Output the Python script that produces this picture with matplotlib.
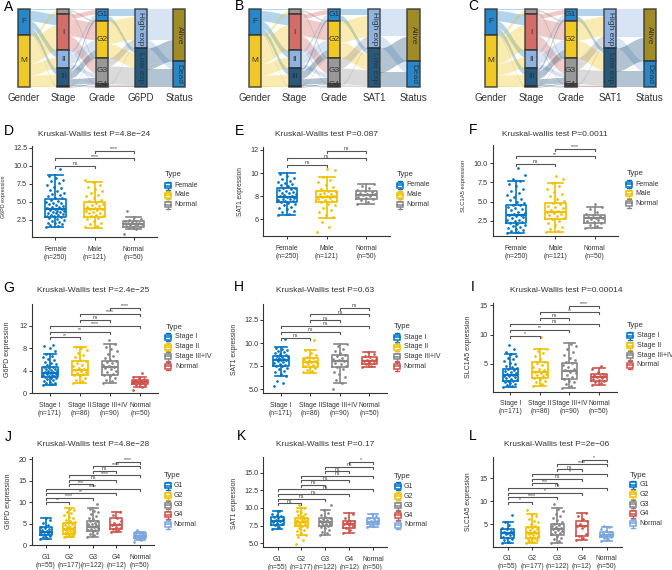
#! /usr/bin/env python3
import numpy as np
import matplotlib
matplotlib.use('Agg')
import matplotlib.pyplot as plt
from matplotlib.patches import Rectangle

plt.rcParams['font.family'] = ['Liberation Sans', 'DejaVu Sans']

BLUE, YEL, GRAY, RED, LBLUE, NAVY, OLIVE = '#0073C2', '#EFC000', '#868686', '#CD534C', '#7AA6DC', '#003C67', '#8F7700'
INK = '#333333'

# sample counts for the alluvial panels (rows = left column, cols = right column)
gender_stage = [[7, 50, 32, 28, 4], [17, 121, 54, 54, 4]]
stage_grade = [[3, 9, 10, 2, 0], [21, 82, 62, 5, 1], [18, 46, 20, 1, 1], [11, 38, 27, 4, 2], [2, 2, 3, 0, 1]]
grade_g6pd = [[35, 20], [108, 69], [38, 84], [3, 9], [1, 4]]
grade_sat1 = [[30, 25], [100, 77], [48, 74], [5, 7], [2, 3]]
grade_slc = [[34, 21], [92, 85], [52, 70], [6, 6], [1, 4]]
g6pd_status = [[145, 40], [100, 86]]
sat1_status = [[130, 55], [115, 71]]
slc_status = [[135, 50], [110, 76]]

# five number summaries: low whisker, q1, median, q3, high whisker
D_stats = [[1.57, 2.96, 3.98, 5.36, 8.7], [1.45, 2.96, 4.0, 4.95, 7.7], [1.2, 1.57, 1.95, 2.36, 2.96]]
E_stats = [[6.37, 7.53, 7.96, 8.68, 9.98], [6.11, 7.47, 7.96, 8.45, 9.69], [7.32, 7.76, 8.1, 8.45, 9.06]]
F_stats = [[0.93, 2.24, 3.25, 4.55, 7.73], [1.06, 2.68, 3.68, 4.77, 7.47], [1.5, 2.24, 2.81, 3.25, 4.33]]
G_stats = [[1.47, 2.84, 3.66, 4.73, 6.92], [1.78, 3.25, 4.14, 5.79, 8.28], [1.78, 3.25, 4.62, 5.68, 8.76], [1.17, 1.6, 1.95, 2.36, 2.95]]
H_stats = [[6.41, 7.53, 8.15, 8.59, 9.53], [6.77, 7.42, 7.9, 8.33, 9.24], [5.68, 7.42, 8.08, 8.66, 9.89], [7.36, 7.72, 8.08, 8.44, 9.05]]
I_stats = [[1.15, 2.17, 3.14, 4.15, 6.69], [1.32, 2.58, 3.59, 5.29, 7.6], [0.98, 2.46, 3.86, 5.12, 8.5], [1.44, 2.17, 2.74, 3.3, 4.27]]
J_stats = [[1.33, 2.33, 3.1, 4.12, 6.37], [1.8, 2.5, 3.66, 5.06, 8.56], [1.94, 3.34, 4.27, 5.67, 8.56], [2.96, 3.66, 4.67, 6.23, 7.63], [1.17, 1.7, 2.1, 2.72, 3.1]]
K_stats = [[7.03, 7.59, 8.16, 8.77, 9.57], [6.18, 7.45, 8.06, 8.63, 9.96], [6.18, 7.45, 8.06, 8.54, 9.72], [6.42, 7.21, 7.73, 8.16, 9.25], [7.27, 7.69, 8.06, 8.54, 9.15]]
L_stats = [[0.87, 1.96, 3.04, 3.91, 5.57], [0.87, 1.96, 3.04, 4.35, 7.24], [0.87, 2.67, 3.91, 5.07, 8.48], [1.59, 2.52, 4.63, 5.78, 7.52], [1.43, 2.17, 2.67, 3.26, 4.35]]

D_pts = [
    [1.6, 1.65, 1.8, 1.9, 2.05, 2.1, 2.25, 2.4, 2.5, 2.6, 2.75, 2.85, 3.0, 3.1, 3.15, 3.25, 3.3, 3.4, 3.5, 3.55, 3.65, 3.7, 3.8, 3.9, 4.0, 4.05, 4.15, 4.25, 4.3, 4.45, 4.6, 4.7, 4.8, 4.9, 5.05, 5.15, 5.3, 5.5, 5.6, 5.8, 6.0, 6.1, 6.3, 6.5, 6.7, 6.9, 7.1, 7.4, 7.6, 7.9, 8.1, 8.3, 8.6, 9.5],
    [1.5, 1.7, 1.9, 2.1, 2.4, 2.6, 2.8, 3.0, 3.1, 3.2, 3.4, 3.5, 3.6, 3.7, 3.85, 4.0, 4.05, 4.2, 4.3, 4.45, 4.6, 4.75, 4.9, 5.1, 5.3, 5.5, 5.8, 6.0, 6.2, 6.5, 6.8, 7.1, 7.4, 7.7, 8.0],
    [0.6, 1.2, 1.35, 1.5, 1.6, 1.7, 1.8, 1.85, 1.9, 2.0, 2.05, 2.1, 2.2, 2.3, 2.4, 2.5, 2.7, 2.95, 3.7],
]
E_pts = [
    [6.4, 6.5, 6.6, 6.7, 6.85, 6.95, 7.05, 7.2, 7.3, 7.4, 7.5, 7.55, 7.6, 7.7, 7.75, 7.8, 7.85, 7.9, 8.0, 8.05, 8.1, 8.15, 8.25, 8.3, 8.4, 8.45, 8.5, 8.6, 8.7, 8.75, 8.85, 8.95, 9.05, 9.15, 9.25, 9.35, 9.5, 9.6, 9.75, 9.95],
    [4.9, 5.3, 5.8, 6.2, 6.4, 6.6, 6.8, 7.0, 7.2, 7.35, 7.5, 7.6, 7.7, 7.8, 7.85, 7.95, 8.0, 8.05, 8.15, 8.2, 8.3, 8.4, 8.45, 8.6, 8.8, 9.0, 9.2, 9.4, 9.65, 10.3, 10.35],
    [7.35, 7.5, 7.65, 7.75, 7.85, 7.95, 8.0, 8.1, 8.15, 8.2, 8.3, 8.4, 8.45, 8.55, 8.7, 8.85, 9.05],
]
F_pts = [
    [0.95, 1.05, 1.15, 1.3, 1.4, 1.5, 1.65, 1.8, 1.9, 2.05, 2.2, 2.3, 2.4, 2.55, 2.65, 2.8, 2.95, 3.05, 3.2, 3.3, 3.4, 3.55, 3.7, 3.85, 4.0, 4.2, 4.35, 4.5, 4.6, 4.75, 4.95, 5.15, 5.4, 5.6, 5.85, 6.1, 6.4, 6.7, 7.0, 7.3, 7.7, 8.0, 8.5, 9.4],
    [1.05, 1.2, 1.45, 1.7, 1.95, 2.2, 2.5, 2.7, 2.9, 3.05, 3.2, 3.35, 3.5, 3.65, 3.8, 3.95, 4.1, 4.25, 4.45, 4.65, 4.8, 5.1, 5.4, 5.7, 6.0, 6.3, 6.7, 7.0, 7.4, 8.0, 8.4],
    [1.5, 1.8, 2.0, 2.2, 2.35, 2.5, 2.6, 2.7, 2.8, 2.9, 3.0, 3.1, 3.2, 3.35, 3.6, 4.0, 4.3, 4.7],
]
G_pts = [
    [1.5, 1.6, 1.75, 1.9, 2.05, 2.2, 2.35, 2.5, 2.65, 2.8, 2.9, 3.0, 3.1, 3.2, 3.3, 3.4, 3.5, 3.6, 3.7, 3.8, 3.9, 4.0, 4.1, 4.25, 4.35, 4.5, 4.65, 4.75, 4.95, 5.15, 5.35, 5.6, 5.85, 6.1, 6.4, 6.7, 6.9, 7.5, 8.0, 8.4, 8.5],
    [1.8, 2.1, 2.4, 2.7, 3.0, 3.2, 3.4, 3.6, 3.8, 4.0, 4.1, 4.3, 4.5, 4.8, 5.1, 5.4, 5.7, 6.0, 6.4, 6.8, 7.2, 7.6, 8.0, 8.3],
    [1.8, 2.1, 2.4, 2.7, 3.0, 3.2, 3.4, 3.7, 4.0, 4.3, 4.5, 4.7, 4.9, 5.1, 5.3, 5.5, 5.7, 5.9, 6.2, 6.6, 7.0, 7.5, 7.9, 8.3, 8.7, 9.5],
    [0.6, 1.2, 1.4, 1.55, 1.7, 1.8, 1.9, 2.0, 2.1, 2.2, 2.3, 2.45, 2.7, 2.95, 3.6],
]
H_pts = [
    [5.3, 5.6, 5.9, 6.4, 6.6, 6.8, 7.0, 7.15, 7.3, 7.45, 7.55, 7.65, 7.75, 7.85, 7.95, 8.05, 8.1, 8.2, 8.25, 8.3, 8.4, 8.45, 8.5, 8.6, 8.7, 8.8, 8.9, 9.0, 9.1, 9.25, 9.4, 9.5, 10.4],
    [6.8, 6.95, 7.1, 7.25, 7.4, 7.5, 7.6, 7.7, 7.8, 7.9, 7.95, 8.05, 8.15, 8.25, 8.35, 8.5, 8.7, 8.9, 9.2, 10.3],
    [5.0, 5.7, 6.0, 6.3, 6.6, 6.9, 7.2, 7.4, 7.55, 7.7, 7.85, 8.0, 8.1, 8.25, 8.4, 8.55, 8.7, 8.9, 9.1, 9.4, 9.7, 9.9],
    [7.4, 7.55, 7.7, 7.8, 7.9, 8.0, 8.1, 8.2, 8.3, 8.45, 8.6, 8.8, 9.05],
]
I_pts = [
    [1.15, 1.3, 1.45, 1.6, 1.75, 1.9, 2.05, 2.2, 2.35, 2.5, 2.65, 2.8, 2.95, 3.05, 3.2, 3.35, 3.5, 3.65, 3.8, 3.95, 4.1, 4.25, 4.45, 4.7, 4.95, 5.2, 5.5, 5.8, 6.1, 6.4, 6.7, 7.0, 7.5, 8.3],
    [1.35, 1.6, 1.9, 2.2, 2.5, 2.7, 2.9, 3.1, 3.3, 3.5, 3.7, 3.9, 4.2, 4.5, 4.8, 5.1, 5.4, 5.8, 6.3, 6.8, 7.2, 7.6, 9.5],
    [1.0, 1.3, 1.6, 1.9, 2.2, 2.5, 2.8, 3.1, 3.4, 3.7, 3.9, 4.2, 4.5, 4.8, 5.1, 5.4, 5.7, 6.1, 6.6, 7.0, 7.5, 8.0, 8.4],
    [1.45, 1.8, 2.0, 2.2, 2.35, 2.5, 2.65, 2.75, 2.9, 3.05, 3.2, 3.35, 3.7, 4.2, 4.7],
]
J_pts = [
    [1.35, 1.6, 1.9, 2.2, 2.4, 2.6, 2.8, 3.0, 3.15, 3.3, 3.5, 3.7, 4.0, 4.2, 4.6, 5.2, 5.8, 6.3],
    [1.8, 2.0, 2.2, 2.4, 2.55, 2.7, 2.85, 3.0, 3.1, 3.25, 3.4, 3.55, 3.7, 3.85, 4.0, 4.15, 4.3, 4.5, 4.7, 4.9, 5.05, 5.3, 5.6, 5.9, 6.2, 6.6, 7.0, 7.4, 7.8, 8.2, 8.5],
    [1.95, 2.3, 2.6, 2.9, 3.2, 3.4, 3.6, 3.8, 4.0, 4.2, 4.4, 4.6, 4.8, 5.0, 5.2, 5.5, 5.7, 6.0, 6.4, 6.8, 7.2, 7.6, 8.0, 8.5, 9.5],
    [3.0, 3.5, 3.7, 3.9, 4.3, 4.6, 4.8, 5.2, 5.6, 6.2, 6.9, 7.6],
    [0.6, 1.2, 1.4, 1.6, 1.7, 1.85, 1.95, 2.05, 2.15, 2.25, 2.4, 2.55, 2.7, 2.9, 3.1, 3.6],
]
K_pts = [
    [7.05, 7.3, 7.55, 7.7, 7.9, 8.05, 8.15, 8.25, 8.4, 8.55, 8.7, 8.8, 9.0, 9.2, 9.55],
    [4.9, 5.5, 5.9, 6.2, 6.5, 6.7, 6.9, 7.1, 7.3, 7.45, 7.6, 7.7, 7.8, 7.9, 8.0, 8.05, 8.15, 8.25, 8.35, 8.45, 8.55, 8.65, 8.8, 9.0, 9.2, 9.4, 9.6, 9.95, 10.4],
    [6.2, 6.4, 6.65, 6.9, 7.1, 7.3, 7.45, 7.6, 7.7, 7.8, 7.9, 8.0, 8.1, 8.2, 8.3, 8.4, 8.55, 8.75, 9.0, 9.3, 9.7, 10.4],
    [6.45, 6.9, 7.2, 7.4, 7.6, 7.7, 7.8, 7.95, 8.1, 8.2, 8.6, 9.2],
    [7.3, 7.45, 7.65, 7.75, 7.9, 8.0, 8.1, 8.2, 8.35, 8.5, 8.65, 8.85, 9.15],
]
L_pts = [
    [0.9, 1.2, 1.5, 1.8, 2.0, 2.3, 2.6, 2.8, 3.0, 3.2, 3.4, 3.6, 3.9, 4.3, 4.8, 5.5, 7.0],
    [0.9, 1.1, 1.3, 1.5, 1.7, 1.9, 2.1, 2.3, 2.5, 2.7, 2.9, 3.05, 3.2, 3.4, 3.6, 3.8, 4.0, 4.2, 4.4, 4.7, 5.0, 5.4, 5.8, 6.2, 6.7, 7.2, 8.1],
    [0.9, 1.3, 1.7, 2.1, 2.5, 2.8, 3.1, 3.4, 3.6, 3.8, 4.0, 4.2, 4.4, 4.6, 4.9, 5.1, 5.5, 5.9, 6.3, 6.8, 7.3, 7.8, 8.4, 9.4],
    [1.6, 2.0, 2.5, 3.0, 4.2, 4.6, 4.7, 5.1, 5.7, 6.2, 6.9, 7.5],
    [1.45, 1.75, 2.0, 2.15, 2.3, 2.45, 2.6, 2.7, 2.8, 2.95, 3.1, 3.25, 3.5, 3.9, 4.35, 4.7],
]

# significance brackets: from group, to group, height, label
D_sig = [(1, 2, 10.0, 'ns'), (1, 3, 11.03, '****'), (2, 3, 12.08, '****')]
E_sig = [(1, 2, 10.73, 'ns'), (1, 3, 11.28, 'ns'), (2, 3, 11.94, 'ns')]
F_sig = [(1, 2, 9.91, 'ns'), (1, 3, 10.92, '**'), (2, 3, 11.91, '****')]
G_sig = [(1, 2, 9.95, '**'), (1, 3, 10.94, '**'), (1, 4, 11.95, '****'), (2, 3, 13.02, 'ns'), (2, 4, 14.08, '****'), (3, 4, 15.2, '****')]
H_sig = [(1, 2, 10.58, 'ns'), (1, 3, 11.23, 'ns'), (1, 4, 11.85, 'ns'), (2, 3, 12.5, 'ns'), (2, 4, 13.15, 'ns'), (3, 4, 13.84, 'ns')]
I_sig = [(1, 2, 9.75, '*'), (1, 3, 10.76, '**'), (1, 4, 11.78, 'ns'), (2, 3, 12.8, 'ns'), (2, 4, 13.8, '**'), (3, 4, 14.88, '****')]
J_sig = [(1, 2, 10.1, '**'), (1, 3, 11.05, '****'), (1, 4, 12.06, '**'), (1, 5, 13.07, '****'), (2, 3, 14.2, '***'), (2, 4, 15.17, 'ns'), (2, 5, 16.26, '****'), (3, 4, 17.27, 'ns'), (3, 5, 18.36, '****'), (4, 5, 19.37, '****')]
K_sig = [(1, 2, 10.67, 'ns'), (1, 3, 11.32, 'ns'), (1, 4, 11.98, 'ns'), (1, 5, 12.65, 'ns'), (2, 3, 13.26, 'ns'), (2, 4, 13.92, 'ns'), (2, 5, 14.57, 'ns'), (3, 4, 15.24, 'ns'), (3, 5, 15.85, 'ns'), (4, 5, 16.56, '*')]
L_sig = [(1, 2, 9.91, '*'), (1, 3, 10.87, '****'), (1, 4, 11.87, '*'), (1, 5, 12.96, 'ns'), (2, 3, 13.91, '***'), (2, 4, 14.91, 'ns'), (2, 5, 16.0, '*'), (3, 4, 16.96, 'ns'), (3, 5, 18.04, '****'), (4, 5, 19.04, '*')]

gender_cats = ['Female', 'Male', 'Normal']
gender_n = [250, 121, 50]
stage_cats = ['Stage I', 'Stage II', 'Stage III+IV', 'Normal']
stage_n = [171, 86, 90, 50]
grade_cats = ['G1', 'G2', 'G3', 'G4', 'Normal']
grade_n = [55, 177, 122, 12, 50]

W, H = 672, 570
fig = plt.figure(figsize=(W / 100, H / 100), dpi=100)
over = fig.add_axes([0, 0, 1, 1], zorder=5)
over.set_xlim(0, W)
over.set_ylim(H, 0)
over.axis('off')


def alluvial(col_x, matrices, col_colors, flow_colors, col_labels, names):
    width, top, bottom = 12.3, 9.0, 87.3
    total = float(np.sum(matrices[0]))
    scale = (bottom - top) / total
    for k, m in enumerate(matrices):
        m = np.array(m, dtype=float)
        left_y = top + np.concatenate([[0], np.cumsum(m.sum(axis=1))]) * scale
        right_y = top + np.concatenate([[0], np.cumsum(m.sum(axis=0))]) * scale
        right_used = right_y[:-1].copy()
        t = np.linspace(0, 1, 40)
        s = 3 * t ** 2 - 2 * t ** 3
        xs = col_x[k] + width + t * (col_x[k + 1] - col_x[k] - width)
        for i in range(m.shape[0]):
            y0 = left_y[i]
            for j in range(m.shape[1]):
                h = m[i, j] * scale
                if h <= 0:
                    continue
                y1 = right_used[j]
                upper = y0 + (y1 - y0) * s
                over.fill_between(xs, upper, upper + h, color=flow_colors[k][i], alpha=0.3, lw=0, zorder=1)
                y0 += h
                right_used[j] += h
    for k, x in enumerate(col_x):
        m = np.array(matrices[k] if k < len(matrices) else matrices[-1], dtype=float)
        sizes = m.sum(axis=1) if k < len(matrices) else m.sum(axis=0)
        y = top
        for i, size in enumerate(sizes):
            h = size * scale
            over.add_patch(Rectangle((x, y), width, h, fc=col_colors[k][i], ec=INK, lw=1.1, alpha=0.85, zorder=3))
            name = names[k][i]
            if name:
                over.text(x + width / 2, y + h / 2, name, ha='center', va='center', fontsize=6, color=INK,
                          rotation=270 if k >= 3 else 0, zorder=4)
            y += h
        over.text(x + width / 2, 98, col_labels[k], ha='center', va='center', fontsize=7, color=INK)


def legend(title_x, title_y, key_x, key_ys, text_x, labels, colors):
    over.text(title_x, title_y, 'Type', fontsize=5.6, va='center', ha='left', color=INK)
    for y, lab, c in zip(key_ys, labels, colors):
        over.plot([key_x, key_x], [y - 4.2, y + 4.2], color=c, lw=1.0)
        over.plot([key_x - 2, key_x + 2], [y - 4.2, y - 4.2], color=c, lw=0.9)
        over.plot([key_x - 2, key_x + 2], [y + 4.2, y + 4.2], color=c, lw=0.9)
        over.add_patch(Rectangle((key_x - 3, y - 2.5), 6, 5, fc='white', ec=c, lw=1.1, zorder=3))
        over.plot([key_x - 3, key_x + 3], [y, y], color=c, lw=1.1, zorder=4)
        over.text(text_x, y, lab, fontsize=5, va='center', ha='left', color=INK)


def boxpanel(frame, refs, stats, pts, sig, cats, ns, colors, yticks, ylabels, title, title_xy, ylab, ylab_xy, ylab_size):
    left, right, top, bottom = frame
    (v0, p0), (v1, p1) = refs
    px_per = (p0 - p1) / (v1 - v0)
    ax = fig.add_axes([left / W, 1 - bottom / H, (right - left) / W, (bottom - top) / H])
    ax.set_ylim(v0 - (bottom - p0) / px_per, v0 + (p0 - top) / px_per)
    ax.set_xlim(0.4, len(cats) + 0.6)
    ax.patch.set_alpha(0)
    for g, (st, vals, c) in enumerate(zip(stats, pts, colors)):
        xpos = g + 1
        offs = ((np.arange(len(vals)) * 0.618034) % 1 - 0.5) * 0.48
        ax.scatter(xpos + offs, vals, s=3.8, color=c, lw=0, zorder=2)
        props = dict(color=c, lw=1.2)
        ax.bxp([dict(whislo=st[0], q1=st[1], med=st[2], q3=st[3], whishi=st[4])], positions=[xpos], widths=0.52,
               capwidths=0.4, showfliers=False, boxprops=props, whiskerprops=props, capprops=props,
               medianprops=dict(color=c, lw=1.6), manage_ticks=False, zorder=3)
    tip = 2.0 / px_per
    for a, b, y, lab in sig:
        ax.plot([a, a, b, b], [y - tip, y, y, y - tip], color='#555555', lw=0.8, zorder=4)
        ax.text((a + b) / 2, y - 0.5 / px_per, lab, fontsize=3.6, ha='center', va='bottom', color=INK, zorder=5)
    ax.set_xticks(range(1, len(cats) + 1))
    ax.set_xticklabels(['%s\n(n=%d)' % (c, n) for c, n in zip(cats, ns)], fontsize=4.9, color=INK)
    ax.set_yticks(yticks)
    ax.set_yticklabels(ylabels, fontsize=5.2, color=INK)
    ax.tick_params(axis='x', length=2, width=0.7, pad=4.2, color=INK)
    ax.tick_params(axis='y', length=2, width=0.7, pad=1.5, color=INK)
    for side in ['top', 'right']:
        ax.spines[side].set_visible(False)
    for side in ['left', 'bottom']:
        ax.spines[side].set_linewidth(0.8)
        ax.spines[side].set_color(INK)
    over.text(title_xy[0], title_xy[1], title, fontsize=6, ha='center', va='center', color=INK)
    over.text(ylab_xy[0], ylab_xy[1], ylab, fontsize=ylab_size, rotation=90, ha='center', va='center', color=INK)


# alluvial panels
stage_names = ['', 'I', 'II', 'III', '']
grade_names = ['G1', 'G2', 'G3', 'G4', '']
exp_names = ['High exp', 'Low exp']
status_names = ['Alive', 'Dead']
gender_names = ['F', 'M']
col_colors = [[BLUE, YEL], [GRAY, RED, LBLUE, NAVY, '#111111'], [BLUE, YEL, GRAY, GRAY, RED],
              [LBLUE, NAVY], [OLIVE, BLUE]]
flow_colors = [[BLUE, YEL], [GRAY, RED, LBLUE, NAVY, '#111111'], [BLUE, YEL, GRAY, GRAY, RED], [LBLUE, NAVY]]
names = [gender_names, stage_names, grade_names, exp_names, status_names]
alluvial([18, 57, 96, 134.5, 173], [gender_stage, stage_grade, grade_g6pd, g6pd_status], col_colors, flow_colors,
         ['Gender', 'Stage', 'Grade', 'G6PD', 'Status'], names)
alluvial([249, 288.5, 328, 368, 407.3], [gender_stage, stage_grade, grade_sat1, sat1_status], col_colors, flow_colors,
         ['Gender', 'Stage', 'Grade', 'SAT1', 'Status'], names)
alluvial([485, 525, 564.5, 604, 643.5], [gender_stage, stage_grade, grade_slc, slc_status], col_colors, flow_colors,
         ['Gender', 'Stage', 'Grade', 'SAT1', 'Status'], names)

# box panels
c3 = [BLUE, YEL, GRAY]
c4 = [BLUE, YEL, GRAY, RED]
c5 = [BLUE, YEL, GRAY, RED, LBLUE]
boxpanel((32, 157, 146, 237), ((2.5, 220), (12.5, 147.7)), D_stats, D_pts, D_sig, gender_cats, gender_n, c3,
         [2.5, 5, 7.5, 10, 12.5], ['2.5', '5.0', '7.5', '10.0', '12.5'], 'Kruskal-Wallis test P=4.8e\u221224', (94, 135),
         'G6PD expression', (4, 197), 3.9)
boxpanel((263.3, 390, 147, 236), ((6, 219.3), (12, 150)), E_stats, E_pts, E_sig, gender_cats, gender_n, c3,
         [6, 8, 10, 12], ['6', '8', '10', '12'], 'Kruskal-Wallis test P=0.087', (326, 135),
         'SAT1 expression', (240, 191.7), 4.7)
boxpanel((492.7, 618, 145, 236), ((2.5, 220.7), (10, 163.3)), F_stats, F_pts, F_sig, gender_cats, gender_n, c3,
         [2.5, 5, 7.5, 10], ['2.5', '5.0', '7.5', '10.0'], 'Kruskal-wallis test P=0.0011', (555, 135),
         'SLC1A5 expression', (463, 186), 4.2)
boxpanel((32, 158, 304, 393.3), ((0, 393.3), (12, 325.7)), G_stats, G_pts, G_sig, stage_cats, stage_n, c4,
         [0, 4, 8, 12], ['0', '4', '8', '12'], 'Kruskal-Wallis test P=2.4e\u221225', (93, 291),
         'G6PD expression', (8, 349), 5)
boxpanel((263.3, 387, 304, 393.3), ((5, 389), (12.5, 320)), H_stats, H_pts, H_sig, stage_cats, stage_n, c4,
         [5, 7.5, 10, 12.5], ['5.0', '7.5', '10.0', '12.5'], 'Kruskal-Wallis test P=0.63', (325, 291),
         'SAT1 expression', (234, 349), 4.85)
boxpanel((492.7, 616.7, 302.7, 391.7), ((5, 364), (15, 305)), I_stats, I_pts, I_sig, stage_cats, stage_n, c4,
         [5, 10, 15], ['5', '10', '15'], 'Kruskal-Wallis test P=0.00014', (566, 291),
         'SLC1A5 expression', (469, 347), 5)
boxpanel((31.7, 154, 457, 545), ((0, 545), (20, 459.3)), J_stats, J_pts, J_sig, grade_cats, grade_n, c5,
         [0, 5, 10, 15, 20], ['0', '5', '10', '15', '20'], 'Kruskal-Wallis test P=4.8e\u221228', (93, 444),
         'G6PD expression', (9, 501), 5)
boxpanel((263.3, 387.3, 457, 547.3), ((5, 543.3), (15, 472.7)), K_stats, K_pts, K_sig, grade_cats, grade_n, c5,
         [5, 7.5, 10, 12.5, 15], ['5.0', '7.5', '10.0', '12.5', '15.0'], 'Kruskal-Wallis test P=0.17', (325, 444),
         'SAT1 expression', (234, 503), 4.85)
boxpanel((492.7, 621.7, 456.7, 546.7), ((5, 524.3), (15, 478.3)), L_stats, L_pts, L_sig, grade_cats, grade_n, c5,
         [5, 10, 15], ['5', '10', '15'], 'Kruskal-Wallis test P=2e\u221206', (557, 444),
         'SLC1A5 expression', (469, 502), 4.8)

# legends
legend(165, 175, 168, [185.7, 195, 204.7], 174, gender_cats, c3)
legend(397, 174.7, 400, [185, 195, 204.7], 406.7, gender_cats, c3)
legend(626.7, 173.3, 629.3, [184, 193.7, 203.3], 635.7, gender_cats, c3)
legend(165.7, 327.3, 168.3, [337, 347, 356.3, 366], 175, stage_cats, c4)
legend(394, 327, 397.3, [337.3, 347, 356.7, 366.3], 403.7, stage_cats, c4)
legend(627.3, 325.7, 630, [335.7, 345.7, 355.3, 365], 636.7, stage_cats, c4)
legend(164, 475.7, 167.7, [485.7, 495.7, 505, 514.7, 524.3], 173.3, grade_cats, c5)
legend(394.3, 476.3, 397.7, [486, 496, 505.7, 515.3, 525], 404, grade_cats, c5)
legend(630, 475.7, 632.7, [484.7, 494.3, 504, 513.7, 523.3], 639.3, grade_cats, c5)

# panel letters
for lab, x, y in [('A', 9, 7), ('B', 239, 6), ('C', 473, 6), ('D', 9, 131), ('E', 239, 131), ('F', 473, 130),
                  ('G', 9, 288), ('H', 239, 287), ('I', 473, 287), ('J', 8, 437), ('K', 241, 436), ('L', 473, 436)]:
    over.text(x, y, lab, fontsize=10, ha='center', va='center', color='black')

fig.savefig('out.png', dpi=100)
plt.close('all')
